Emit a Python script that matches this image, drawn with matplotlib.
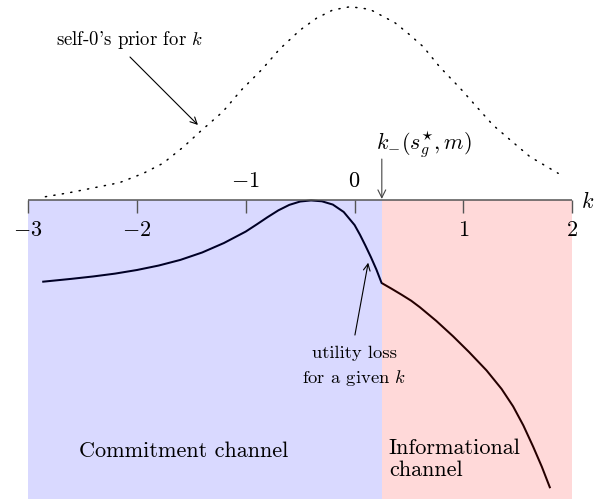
import matplotlib
matplotlib.use("Agg")
import matplotlib.pyplot as plt

plt.rcParams["mathtext.fontset"] = "cm"
plt.rcParams["font.family"] = "cmr10"
plt.rcParams["axes.formatter.use_mathtext"] = True

# Prior density of self-0 over k (dotted curve)
prior_k = [-2.84, -2.62, -2.37, -2.16, -1.94, -1.76, -1.57, -1.42, -1.21, -1.04,
           -0.85, -0.69, -0.50, -0.35, -0.20, -0.04, 0.14, 0.37, 0.49, 0.63,
           0.78, 0.97, 1.12, 1.27, 1.43, 1.61, 1.87]
prior_density = [0.030, 0.067, 0.117, 0.159, 0.245, 0.337, 0.489, 0.627, 0.811, 1.010,
                 1.200, 1.384, 1.561, 1.669, 1.745, 1.775, 1.751, 1.628, 1.531, 1.408,
                 1.224, 1.026, 0.857, 0.689, 0.551, 0.398, 0.245]

# Utility loss for a given k (solid curve, kink at k_-)
loss_k = [-2.86, -2.6, -2.4, -2.2, -2.0, -1.8, -1.6, -1.4, -1.2, -1.0,
          -0.9, -0.8, -0.7, -0.6, -0.5, -0.4, -0.3, -0.2, -0.1, 0.0,
          0.05, 0.1, 0.15, 0.2, 0.248,
          0.34, 0.432, 0.52, 0.6, 0.75, 0.905, 1.05, 1.212, 1.35, 1.456, 1.55, 1.64,
          1.72, 1.793]
loss_value = [-0.750, -0.724, -0.702, -0.676, -0.643, -0.602, -0.550, -0.482, -0.395, -0.290,
              -0.225, -0.158, -0.095, -0.045, -0.014, -0.004, -0.012, -0.042, -0.110, -0.230,
              -0.320, -0.420, -0.525, -0.638, -0.762,
              -0.815, -0.870, -0.925, -0.985, -1.110, -1.252, -1.395, -1.565, -1.735, -1.895, -2.070, -2.265,
              -2.450, -2.638]

k_minus = 0.25
k_min, k_max = -3, 2
tick_vals = [-3, -2, -1, 0, 1, 2]
ticks_above = [-1, 0]
region_depth = -2.745

fig = plt.figure(figsize=(5.94, 5.04), dpi=100)
ax = fig.add_axes([0, 0, 1, 1])
ax.set_xlim(-3.257, 2.199)
ax.set_ylim(-2.7916, 1.8365)
ax.axis("off")

# loss curve, tinted by the translucent regions on top of it
ax.plot(loss_k, loss_value, color="black", lw=1.45, zorder=1,
        solid_joinstyle="round")

# channel regions
ax.fill_between([k_min, k_minus], region_depth, 0, color=(0, 0, 1), alpha=0.15,
                lw=0, zorder=2)
ax.fill_between([k_minus, k_max], region_depth, 0, color=(1, 0, 0), alpha=0.15,
                lw=0, zorder=2)

# prior (dotted)
ax.plot(prior_k, prior_density, color="black", lw=1.1, zorder=3,
        linestyle=(0, (0.8, 4.8)), dash_capstyle="round")

# k axis with ticks
axis_col = "#555555"
ax.plot([k_min, k_max], [0, 0], color=axis_col, lw=1.1, zorder=4,
        solid_capstyle="butt")
for t in tick_vals:
    ax.plot([t, t], [0, -0.119], color=axis_col, lw=1.0, zorder=4,
            solid_capstyle="butt")
    label = "$%d$" % t if t >= 0 else "$-%d$" % abs(t)
    if t in ticks_above:
        ax.text(t, 0.174, label, ha="center", va="center", fontsize=16, zorder=5)
    else:
        ax.text(t, -0.275, label, ha="center", va="center", fontsize=16, zorder=5)
ax.text(2.143, -0.018, "$k$", ha="center", va="center", fontsize=16)

# k_- marker
ax.annotate("", xy=(k_minus, 0.01), xytext=(k_minus, 0.376),
            arrowprops=dict(arrowstyle="->", color="#444444", lw=0.8,
                            shrinkA=0, shrinkB=0, mutation_scale=14), zorder=5)
ax.text(0.196, 0.505, r"$k_{-}(s_g^{\star}, m)$", ha="left", va="center",
        fontsize=16)

# annotations
ax.text(-2.063, 1.469, "self-0's prior for $k$", ha="center", va="center",
        fontsize=13.5)
ax.annotate("", xy=(-1.439, 0.689), xytext=(-2.063, 1.313),
            arrowprops=dict(arrowstyle="->", color="black", lw=0.8,
                            shrinkA=0, shrinkB=0, mutation_scale=12))

ax.text(0.0, -1.405, "utility loss", ha="center", va="center", fontsize=13.4,
        zorder=5)
ax.text(0.0, -1.635, "for a given $k$", ha="center", va="center", fontsize=13.4,
        zorder=5)
ax.annotate("", xy=(0.125, -0.576), xytext=(0.003, -1.240),
            arrowprops=dict(arrowstyle="->", color="black", lw=0.8,
                            shrinkA=0, shrinkB=0, mutation_scale=12), zorder=5)

ax.text(-1.567, -2.311, "Commitment channel", ha="center", va="center",
        fontsize=16, zorder=5)
ax.text(0.315, -2.377, "Informational\nchannel", ha="left", va="center",
        fontsize=16, linespacing=1.15, zorder=5)

fig.savefig("out.png", dpi=100)
